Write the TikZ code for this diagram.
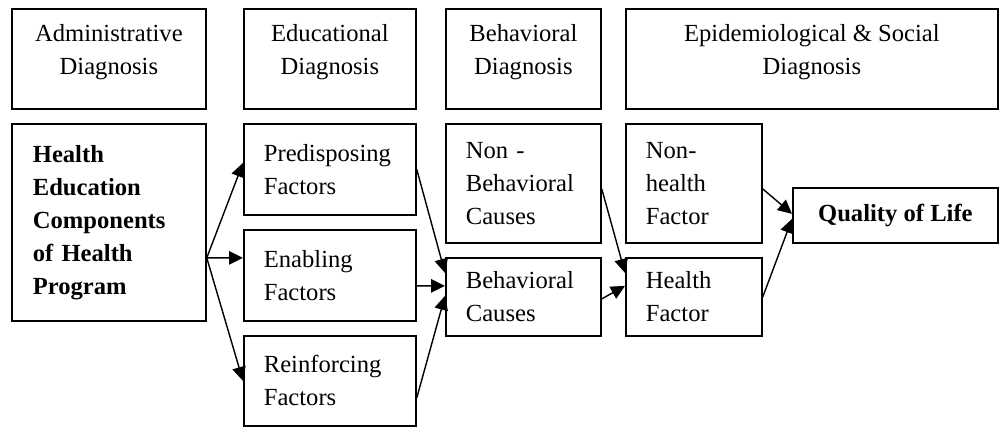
\documentclass[tikz,border=0pt]{standalone}
\usepackage{fontspec}
\setmainfont{Liberation Serif}
\usetikzlibrary{arrows.meta}

\begin{document}
\begin{tikzpicture}[
    font=\fontsize{14pt}{18.8pt}\selectfont,
    head/.style={draw, line width=1pt, anchor=north west, align=center,
        minimum height=2cm, inner sep=0pt, text height=1.0cm, text depth=0.39cm},
    factor/.style={draw, line width=1pt, anchor=north west, align=left,
        inner xsep=0.4cm, inner ysep=0pt, text width=#1},
    arr/.style={line width=0.8pt, -{Triangle[length=0.28cm, width=0.27cm]}}
]
    \useasboundingbox (0,0) rectangle (19.98,-8.54);

    % diagnosis headers
    \node[head, minimum width=3.88cm] (adm) at (0.22,-0.16) {Administrative\\Diagnosis};
    \node[head, minimum width=3.44cm] (edu) at (4.86,-0.16) {Educational\\Diagnosis};
    \node[head, minimum width=3.1cm] (beh) at (8.9,-0.16) {Behavioral\\Diagnosis};
    \node[head, minimum width=7.44cm] (epi) at (12.5,-0.16) {Epidemiological \& Social\\Diagnosis};

    % factors
    \node[factor=3.04cm, inner xsep=0.42cm, minimum height=3.94cm, font=\fontsize{14pt}{18.8pt}\selectfont\bfseries] (he) at (0.22,-2.46)
        {Health\\Education\\Components\\of Health\\Program};
    \node[factor=2.64cm, minimum height=1.82cm] (pre) at (4.86,-2.46) {Predisposing\\Factors};
    \node[factor=2.64cm, minimum height=1.82cm] (en) at (4.86,-4.58) {Enabling\\Factors};
    \node[factor=2.64cm, minimum height=1.80cm] (rf) at (4.86,-6.70) {Reinforcing\\Factors};
    \node[factor=2.3cm, minimum height=2.38cm] (nb) at (8.9,-2.46) {Non -\\Behavioral\\Causes};
    \node[factor=2.3cm, minimum height=1.56cm] (bc) at (8.9,-5.14) {Behavioral\\Causes};
    \node[factor=1.92cm, minimum height=2.38cm] (nh) at (12.5,-2.46) {Non-\\health\\Factor};
    \node[factor=1.92cm, minimum height=1.56cm] (hf) at (12.5,-5.14) {Health\\Factor};
    \node[draw, line width=1pt, anchor=north west, minimum width=4.1cm, minimum height=1.1cm,
        font=\fontsize{14pt}{18.8pt}\selectfont\bfseries] (ql) at (15.84,-3.74) {Quality of Life};

    % arrows
    \coordinate (fork) at ([yshift=-0.71cm]he.east);
    \foreach \t/\s in {pre/0.13cm, en/0.35cm, rf/0cm}
        \draw[arr] (fork) -- ([yshift=\s]\t.west);
    \draw[arr] (pre.east) -- ([yshift=0.48cm]bc.west);
    \draw[arr] ([yshift=-0.21cm]en.east) -- ([yshift=0.22cm]bc.west);
    \draw[arr] ([yshift=-0.34cm]rf.east) -- ([yshift=0.02cm]bc.west);
    \draw[arr] ([yshift=-0.11cm]nb.east) -- ([yshift=0.48cm]hf.west);
    \draw[arr] ([yshift=-0.04cm]bc.east) -- ([yshift=0.22cm]hf.west);
    \draw[arr] ([yshift=-0.11cm]nh.east) -- ([yshift=0.03cm]ql.west);
    \draw[arr] (hf.east) -- ([yshift=-0.07cm]ql.west);
\end{tikzpicture}
\end{document}
